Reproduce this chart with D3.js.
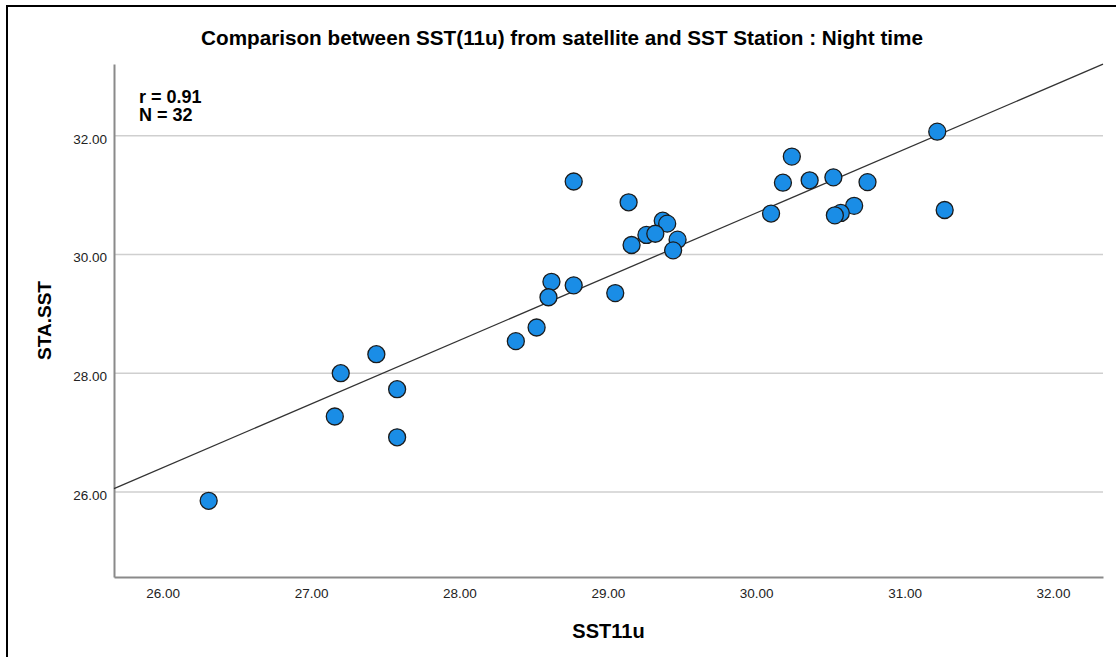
<!DOCTYPE html>
<html>
<head>
<meta charset="utf-8">
<script src="https://cdn.jsdelivr.net/npm/d3@7"></script>
<style>
  body { margin: 0; background: #fff; }
  text { font-family: "Liberation Sans", Arial, sans-serif; }
</style>
</head>
<body>
<div id="chart"></div>
<script>
// data
var sst11u = [26.31, 27.20, 27.44, 27.58, 27.16, 27.58, 28.77, 29.14, 29.37, 29.40,
              29.26, 29.32, 29.16, 29.47, 29.44, 28.62, 28.77, 28.60, 29.05, 28.52,
              28.38, 31.22, 30.24, 30.18, 30.36, 30.52, 30.75, 30.10, 30.66, 30.57,
              30.53, 31.27];
var staSst = [25.85, 28.00, 28.32, 27.73, 27.27, 26.92, 31.23, 30.88, 30.57, 30.52,
              30.33, 30.35, 30.16, 30.25, 30.07, 29.54, 29.48, 29.28, 29.35, 28.77,
              28.54, 32.07, 31.65, 31.21, 31.25, 31.30, 31.22, 30.69, 30.82, 30.70,
              30.66, 30.75];
var xTicks = [26, 27, 28, 29, 30, 31, 32];
var yTicks = [26, 28, 30, 32];
// fit line
var fitIntercept = -1.49, fitSlope = 1.073;

var W = 1116, H = 657;
var margin = {top: 64, right: 13, bottom: 80, left: 114},
    width = W - margin.left - margin.right,
    height = H - margin.top - margin.bottom;

var svg = d3.select("#chart").append("svg")
    .attr("width", W)
    .attr("height", H);

// outer frame
svg.append("rect")
    .attr("x", 7).attr("y", 6)
    .attr("width", 1130).attr("height", 700)
    .attr("fill", "none")
    .attr("stroke", "#000")
    .attr("stroke-width", 2);

var g = svg.append("g")
    .attr("transform", "translate(" + margin.left + "," + margin.top + ")");

var x = d3.scaleLinear().domain([25.672, 32.337]).range([0, width]);
var y = d3.scaleLinear().domain([24.566, 33.21]).range([height, 0]);

// gridlines
g.selectAll(".grid")
    .data(yTicks)
    .enter().append("line")
    .attr("class", "grid")
    .attr("x1", 0).attr("x2", width)
    .attr("y1", function(d) { return y(d); })
    .attr("y2", function(d) { return y(d); })
    .attr("stroke", "#cfcfcf")
    .attr("stroke-width", 1.5);

// axes
var xAxis = g.append("g")
    .attr("transform", "translate(0," + height + ")")
    .call(d3.axisBottom(x).tickValues(xTicks).tickSize(0).tickPadding(11)
        .tickFormat(d3.format(".2f")));
var yAxis = g.append("g")
    .call(d3.axisLeft(y).tickValues(yTicks).tickSize(0).tickPadding(7)
        .tickFormat(d3.format(".2f")));

[xAxis, yAxis].forEach(function(a) {
  a.select(".domain").attr("stroke", "#8a8a8a").attr("stroke-width", 2);
  a.selectAll("text")
      .attr("fill", "#222")
      .style("font-size", "13.5px")
      .style("font-family", '"Liberation Sans", Arial, sans-serif');
});
yAxis.selectAll("text").attr("dy", "0.55em");

// fit line
g.append("line")
    .attr("x1", x(x.domain()[0]))
    .attr("y1", y(fitIntercept + fitSlope * x.domain()[0]))
    .attr("x2", x(x.domain()[1]))
    .attr("y2", y(fitIntercept + fitSlope * x.domain()[1]))
    .attr("stroke", "#333")
    .attr("stroke-width", 1.3);

// points
g.selectAll(".dot")
    .data(sst11u)
    .enter().append("circle")
    .attr("class", "dot")
    .attr("cx", function(d) { return x(d); })
    .attr("cy", function(d, i) { return y(staSst[i]); })
    .attr("r", 8.5)
    .attr("fill", "#1a8de6")
    .attr("stroke", "#1b1b1b")
    .attr("stroke-width", 1.3);

// title
svg.append("text")
    .attr("x", 562)
    .attr("y", 45)
    .attr("text-anchor", "middle")
    .style("font-size", "20.7px")
    .style("font-weight", "bold")
    .text("Comparison between SST(11u) from satellite and SST Station : Night time");

// stats
svg.append("text")
    .attr("x", 139).attr("y", 103)
    .style("font-size", "18px")
    .style("font-weight", "bold")
    .text("r = 0.91");
svg.append("text")
    .attr("x", 139).attr("y", 121)
    .style("font-size", "18px")
    .style("font-weight", "bold")
    .text("N = 32");

// axis labels
svg.append("text")
    .attr("x", margin.left + width / 2)
    .attr("y", 638)
    .attr("text-anchor", "middle")
    .style("font-size", "20px")
    .style("font-weight", "bold")
    .text("SST11u");
svg.append("text")
    .attr("transform", "translate(51," + (margin.top + height / 2) + ") rotate(-90)")
    .attr("text-anchor", "middle")
    .style("font-size", "19px")
    .style("font-weight", "bold")
    .text("STA.SST");
</script>
</body>
</html>
